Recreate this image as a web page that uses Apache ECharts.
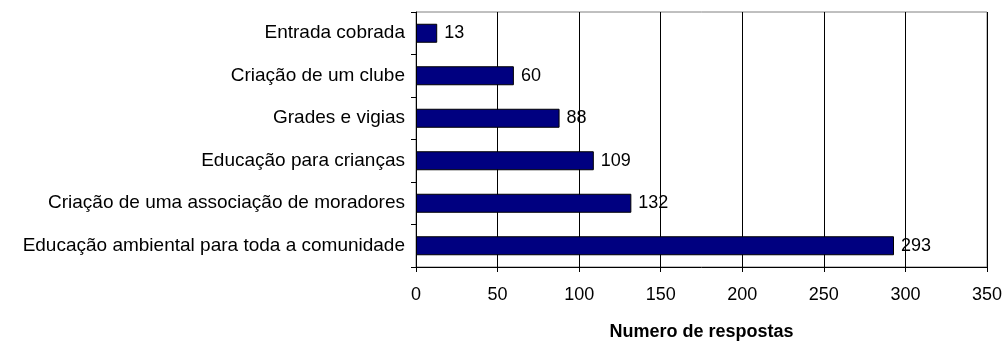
<!DOCTYPE html>
<html>
<head>
<meta charset="utf-8">
<script src="https://cdn.jsdelivr.net/npm/echarts@6/dist/echarts.min.js"></script>
<style>
  html, body { margin: 0; padding: 0; background: #fff; }
  #chart { width: 1005px; height: 342px; }
</style>
</head>
<body>
<div id="chart"></div>
<script>
// Suggested measures and how many respondents chose each one
const categories = [
  'Entrada cobrada',
  'Criação de um clube',
  'Grades e vigias',
  'Educação para crianças',
  'Criação de uma associação de moradores',
  'Educação ambiental para toda a comunidade'
];
const responses = [13, 60, 88, 109, 132, 293];
const axisTitle = 'Numero de respostas';
const xMin = 0, xMax = 350, xStep = 50;

const FONT = '"Liberation Sans", Arial, sans-serif';
const chart = echarts.init(document.getElementById('chart'), null, { renderer: 'canvas' });

chart.setOption({
  animation: false,
  backgroundColor: '#ffffff',
  grid: {
    left: 416, right: 18, top: 12, bottom: 75,
    show: true, borderColor: '#808080', borderWidth: 1,
    backgroundColor: 'transparent', containLabel: false,
    outerBoundsMode: 'none'
  },
  xAxis: {
    type: 'value',
    min: xMin, max: xMax, interval: xStep,
    name: axisTitle,
    nameLocation: 'middle',
    nameGap: 56,
    nameTextStyle: { fontFamily: FONT, fontSize: 18, fontWeight: 'bold', color: '#000' },
    axisLine: { show: true, lineStyle: { color: '#000', width: 1 } },
    axisTick: { show: true, length: 5, lineStyle: { color: '#000' } },
    axisLabel: { fontFamily: FONT, fontSize: 18, color: '#000', margin: 19 },
    splitLine: { show: true, lineStyle: { color: '#000', width: 1 } }
  },
  yAxis: {
    type: 'category',
    data: categories,
    inverse: true,
    axisLine: { show: true, lineStyle: { color: '#000', width: 1 } },
    axisTick: { show: true, length: 5, lineStyle: { color: '#000' } },
    axisLabel: { fontFamily: FONT, fontSize: 19, color: '#000', margin: 11 },
    splitLine: { show: false }
  },
  series: [{
    type: 'bar',
    data: responses,
    barWidth: 19,
    itemStyle: { color: '#000080', borderColor: '#000', borderWidth: 1 },
    label: {
      show: true, position: 'right', distance: 7,
      fontFamily: FONT, fontSize: 18, color: '#000'
    }
  }]
});
</script>
</body>
</html>
